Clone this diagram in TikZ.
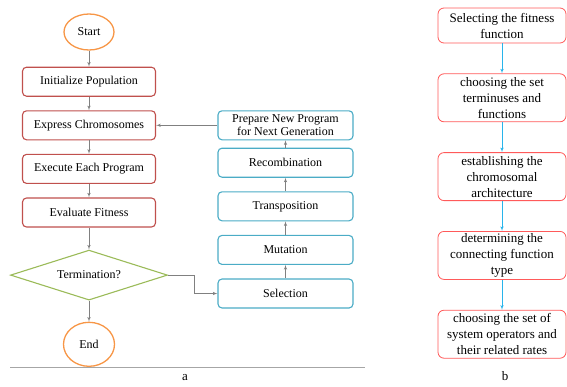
\documentclass[tikz,border=0pt]{standalone}
\usepackage{fontspec}
\setmainfont{Liberation Serif}
\newfontfamily\timesfont{Liberation Serif}
\usepackage{xcolor}
\usepackage{tikz}
\usetikzlibrary{shapes.geometric, arrows, positioning}
\definecolor{boxred}{RGB}{192,80,77}
\definecolor{boxblue}{RGB}{75,172,198}
\definecolor{diagreen}{RGB}{155,187,89}
\definecolor{termorange}{RGB}{247,150,70}
\definecolor{stepred}{RGB}{255,90,90}
\definecolor{stepcyan}{RGB}{40,180,235}
\tikzstyle{redblock} = [rectangle, draw=boxred, line width=1.1pt, fill=white,
    minimum width=133pt, minimum height=29pt, rounded corners=4pt, inner sep=1pt,
    font=\timesfont\fontsize{12}{13.5}\selectfont, align=center]
\tikzstyle{blueblock} = [redblock, draw=boxblue, minimum width=135pt]
\tikzstyle{term} = [ellipse, draw=termorange, line width=1.3pt, fill=white,
    minimum width=50pt, minimum height=36pt, inner sep=0pt, font=\timesfont\fontsize{12}{16}\selectfont]
\tikzstyle{decision} = [diamond, draw=diagreen, line width=1.1pt, fill=white, aspect=3.14,
    minimum width=157pt, minimum height=50pt, inner sep=0pt, font=\timesfont\fontsize{12}{16}\selectfont]
\tikzstyle{pinkblock} = [rectangle, draw=stepred, line width=0.8pt, fill=white,
    minimum width=128pt, minimum height=48pt, rounded corners=6pt, inner sep=1pt,
    font=\timesfont\fontsize{13}{16}\selectfont, align=center]
\tikzstyle{line} = [draw, gray, line width=0.6pt, -latex']
\tikzstyle{pinkline} = [draw, stepcyan, line width=0.6pt, -latex']
\begin{document}
\begin{tikzpicture}[x=1pt, y=-1pt, node distance=13.5pt, auto]
      \useasboundingbox (0,0) rectangle (567,386);
      % Gene expression programming (a)
      \node [term] (start) at (89,32) {Start};
      \node [redblock, below=16pt of start] (init) {Initialize Population};
      \node [redblock, below=of init] (express) {Express Chromosomes};
      \node [redblock, below=of express] (execute) {Execute Each Program};
      \node [redblock, below=of execute] (evaluate) {Evaluate Fitness};
      \node [decision, below=22pt of evaluate] (termination) {Termination?};
      \node [term, below=21pt of termination, minimum width=51pt, minimum height=44pt] (end) {End};
      \node [blueblock] (selection) at (285.5,293.5) {Selection};
      \node [blueblock, above=of selection] (mutation) {Mutation};
      \node [blueblock, above=of mutation] (transposition) {Transposition};
      \node [blueblock, above=of transposition] (recombination) {Recombination};
      \node [blueblock, inner ysep=0pt] (prepare) at (recombination |- express) {Prepare New Program\\for Next Generation};
      \draw [gray!70, line width=0.6pt] (10,367) -- (365,367);
      \node [font=\timesfont\fontsize{13}{16}\selectfont] (labela) at (185,378) {a};
      % Design steps (b)
      \node [pinkblock, minimum height=35pt] (fitness) at (502,25.5) {Selecting the fitness\\function};
      \node [pinkblock, below=30pt of fitness] (terminals) {choosing the set\\terminuses and\\functions};
      \node [pinkblock, below=30pt of terminals] (architecture) {establishing the\\chromosomal\\architecture};
      \node [pinkblock, below=30pt of architecture] (linking) {determining the\\connecting function\\type};
      \node [pinkblock, below=30pt of linking] (operators) {choosing the set of\\system operators and\\their related rates};
      \node [font=\timesfont\fontsize{13}{16}\selectfont] (labelb) at (505,376) {b};
      % Draw edges
      \path [line] (start) -- (init);
      \path [line] (init) -- (express);
      \path [line] (express) -- (execute);
      \path [line] (execute) -- (evaluate);
      \path [line] (evaluate) -- (termination);
      \path [line] (termination) -- (end);
      \path [line] (termination.east) -- ++(26,0) |- (selection.west);
      \path [line] (selection) -- (mutation);
      \path [line] (mutation) -- (transposition);
      \path [line] (transposition) -- (recombination);
      \path [line] (recombination) -- (prepare);
      \path [line] (prepare.west) -- (express.east);
      \path [pinkline] (fitness) -- (terminals);
      \path [pinkline] (terminals) -- (architecture);
      \path [pinkline] (architecture) -- (linking);
      \path [pinkline] (linking) -- (operators);
  \end{tikzpicture}
\end{document}
